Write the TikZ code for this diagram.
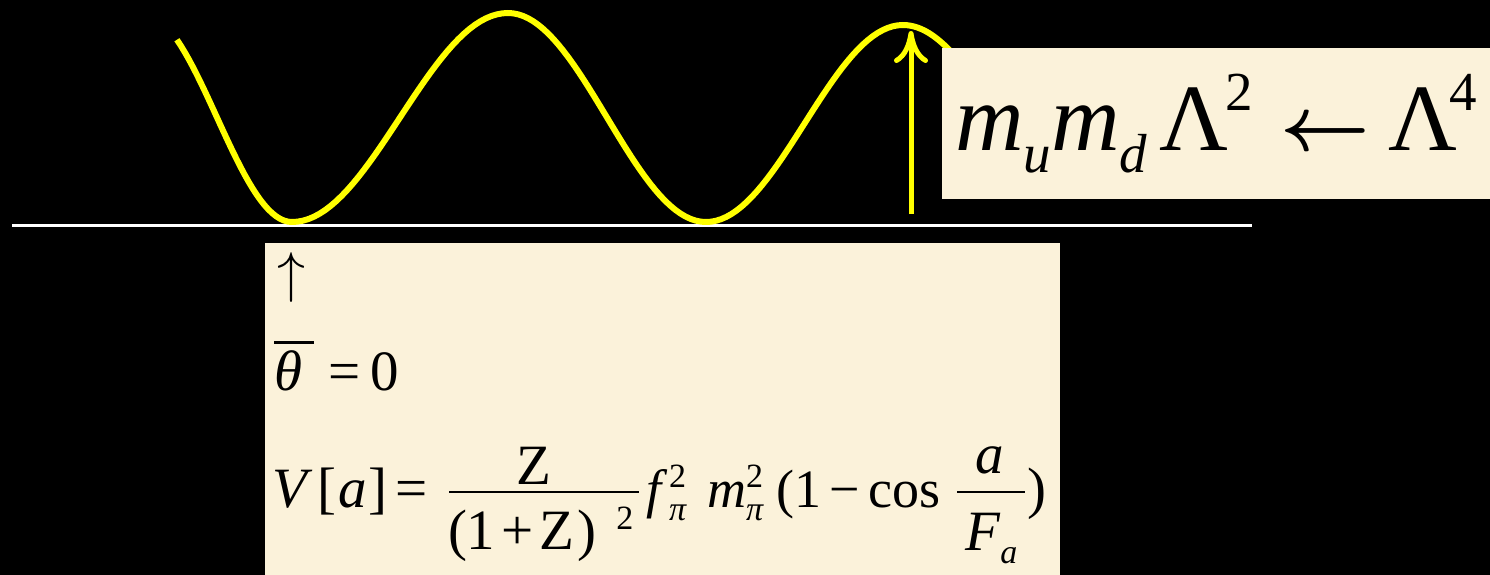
\documentclass[tikz,border=0pt]{standalone}
\usepackage{graphicx}
\usepackage{fontspec}
\setmainfont{Liberation Serif}
\usetikzlibrary{arrows.meta}
\definecolor{paper}{RGB}{251,242,218}
\definecolor{wavey}{RGB}{255,255,0}
\newcommand{\bigsub}[1]{\raisebox{-22pt}{\fontsize{55}{60}\selectfont #1}}
\newcommand{\bigsup}[1]{\raisebox{40pt}{\fontsize{55}{60}\selectfont #1}}
\newcommand{\smsub}[1]{\raisebox{-13pt}{\fontsize{34}{40}\selectfont #1}}
\newcommand{\smsup}[1]{\raisebox{20pt}{\fontsize{34}{40}\selectfont #1}}
\newcommand{\supsub}[2]{\rlap{\smsup{#1}}\smsub{#2}}
\newcommand{\cmarrow}[2]{\scalebox{#1}{\fontsize{10}{12}\selectfont$#2$}}
\newcommand{\cmboldarrow}[2]{\scalebox{#1}{\fontsize{10}{12}\selectfont\boldmath$#2$}}
\tikzset{
  wave/.style={draw=wavey, line width=6pt, line join=round},
  paperbox/.style={fill=paper, draw=none, inner sep=0pt, outer sep=0pt},
  txt/.style={inner sep=0pt, outer sep=0pt, text=black, font=\fontsize{57}{66}\selectfont},
  fracbar/.style={draw=black, line width=2.6pt},
}
\begin{document}
\begin{tikzpicture}[x=1pt, y=-1pt]
\fill[black] (0,0) rectangle (1490,575);
\useasboundingbox (0,0) rectangle (1490,575);
% baseline
\coordinate (wl) at (12,225);
\coordinate (wr) at (1252,225);
\draw[white, line width=3pt] (wl) -- (wr);
% wave
\draw[wave] plot[domain=0.233:1, samples=30, variable=\t] ({142+150*\t},{13+104.5*(1-cos(180*\t))})
  -- plot[domain=0:1, samples=40, variable=\t] ({292+216*\t},{222-104.5*(1-cos(180*\t))})
  -- plot[domain=0:1, samples=40, variable=\t] ({508+198*\t},{13+104.5*(1-cos(180*\t))})
  -- plot[domain=0:1, samples=40, variable=\t] ({706+197*\t},{222-98.5*(1-cos(180*\t))})
  -- plot[domain=0:0.26, samples=15, variable=\t] ({903+200*\t},{25+98.5*(1-cos(180*\t))});
% arrow
\coordinate (abot) at (911,214);
\coordinate (atop) at (911,31);
\draw[wave, line width=5pt, -{Computer Modern Rightarrow[length=32pt, width=34pt]}] (abot) -- (atop);
% right box
\node[paperbox, minimum width=548pt, minimum height=151pt, anchor=north west] (rbox) at (942,48) {};
\node[txt, anchor=base west, font=\fontsize{95}{110}\selectfont] (rtext) at (955,150)
  {\textit{m}\bigsub{\textit{u}}\textit{m}\bigsub{\textit{d}}\kern12pt Λ\kern-3pt\bigsup{2}\kern28pt\cmboldarrow{7.8}{\leftarrow}\kern18pt Λ\kern-8pt\bigsup{4}};
% lower box
\node[paperbox, minimum width=795pt, minimum height=332pt, anchor=north west] (lbox) at (265,243) {};
\node[txt, anchor=base west] (up) at (277,291) {\cmarrow{5.6}{\uparrow}};
\node[txt, anchor=base west] (theta) at (274,390)
  {\rlap{\rule[46pt]{40pt}{3pt}}\textit{θ}\kern26pt=\kern10pt 0};
% potential
\node[txt, anchor=base west] (lhs) at (272,507) {\textit{V}\kern5pt[\kern2pt\textit{a}\kern2pt]\kern8pt=};
\coordinate (b1l) at (449,492);
\coordinate (b1r) at (639,492);
\draw[fracbar] (b1l) -- (b1r);
\node[txt, anchor=base] (num1) at (534,484) {Z};
\node[txt, anchor=base west] (den1) at (448,549) {(1\kern6pt+\kern6pt Z\kern3pt)\kern20pt\smsup{2}};
\node[txt, anchor=base west, font=\fontsize{54}{64}\selectfont] (mid) at (646,507)
  {\textit{f}\kern2pt\supsub{2}{\textit{π}}\kern20pt\textit{m}\supsub{2}{\textit{π}}\kern13pt(1\kern8pt−\kern8pt cos};
\coordinate (b2l) at (957,492);
\coordinate (b2r) at (1025,492);
\draw[fracbar] (b2l) -- (b2r);
\node[txt, anchor=base] (num2) at (990,473) {\textit{a}};
\node[txt, anchor=base west] (den2) at (965,550) {\textit{F}\smsub{\textit{a}}};
\node[txt, anchor=base west] (rp) at (1027,507) {)};
\end{tikzpicture}
\end{document}
